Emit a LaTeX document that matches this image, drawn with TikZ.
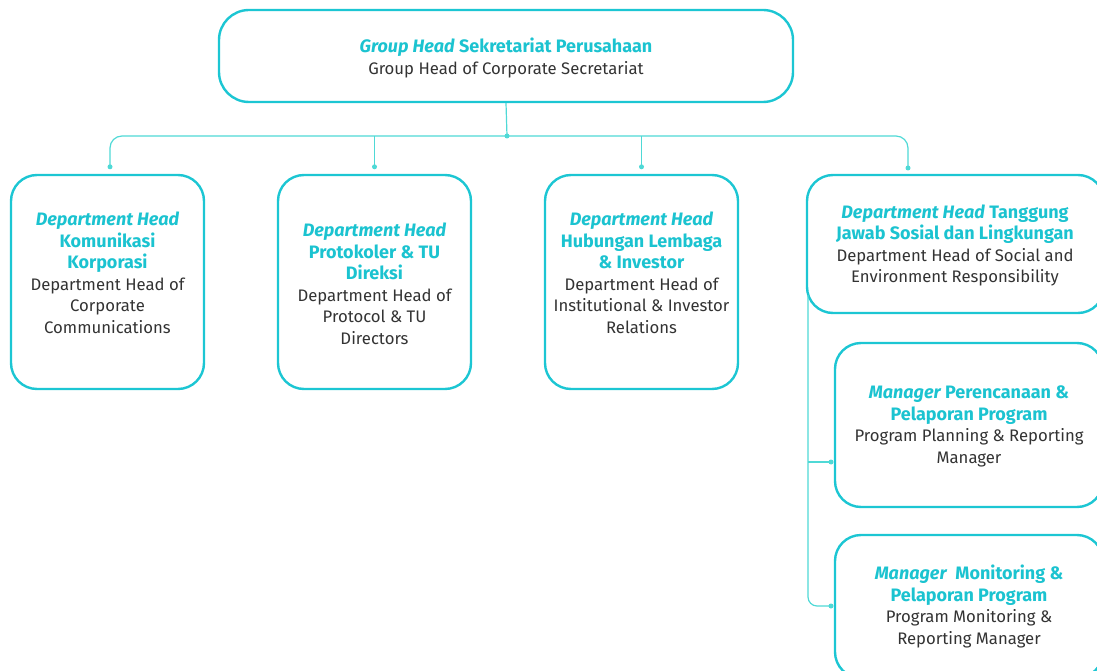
\documentclass[tikz,border=0pt]{standalone}
\usepackage{fontspec}
\setmainfont{Fira Sans}
\usetikzlibrary{calc}
\definecolor{boxc}{HTML}{1CC6D3}
\definecolor{linec}{HTML}{4FD9D6}
\definecolor{titc}{HTML}{1BC3D0}
\definecolor{txtc}{HTML}{333333}
\tikzset{
  box/.style={draw=boxc, line width=2.4pt, rounded corners=26pt, fill=white, inner sep=0pt},
  lbl/.style={align=center, text=txtc, font=\fontsize{16.7}{21.5}\selectfont, inner sep=0pt},
  conn/.style={draw=linec, line width=1.2pt},
  jdot/.style={circle, fill=linec, inner sep=0pt, minimum size=5pt},
}
\newcommand{\tiH}[1]{{\fontsize{18}{21.5}\selectfont\color{titc}\bfseries\itshape #1}}
\newcommand{\tbH}[1]{{\fontsize{18}{21.5}\selectfont\color{titc}\bfseries #1}}
\begin{document}
\begin{tikzpicture}[x=1pt,y=-1pt]
\useasboundingbox (0,0) rectangle (1097,671);
\clip (0,0) rectangle (1097,671);
% boxes
\node[box, rounded corners=30pt, minimum width=574pt, minimum height=92pt] (top) at (506,56) {};
\node[box, minimum width=193pt, minimum height=214pt] (b1) at (107.5,282) {};
\node[box, minimum width=193pt, minimum height=214pt] (b2) at (374.5,282) {};
\node[box, minimum width=193pt, minimum height=214pt] (b3) at (641.5,282) {};
\node[box, minimum width=297pt, minimum height=138pt] (b4) at (955.5,244) {};
\node[box, minimum width=268pt, minimum height=164pt] (b5) at (969,425) {};
\node[box, minimum width=268pt, minimum height=143pt] (b6) at (969,606.5) {};
% labels
\node[lbl] (ttop) at (506,58) {\tiH{Group Head} \tbH{Sekretariat Perusahaan}\\ Group Head of Corporate Secretariat};
\node[lbl] (t1) at (107.5,273) {\tiH{Department Head}\\ \tbH{Komunikasi}\\ \tbH{Korporasi}\\ Department Head of\\ Corporate\\ Communications};
\node[lbl] (t2) at (374.5,284) {\tiH{Department Head}\\ \tbH{Protokoler \& TU}\\ \tbH{Direksi}\\ Department Head of\\ Protocol \& TU\\ Directors};
\node[lbl] (t3) at (641.5,273) {\tiH{Department Head}\\ \tbH{Hubungan Lembaga}\\ \tbH{\& Investor}\\ Department Head of\\ Institutional \& Investor\\ Relations};
\node[lbl] (t4) at (955,245.5) {\tiH{Department Head} \tbH{Tanggung}\\ \tbH{Jawab Sosial dan Lingkungan}\\ Department Head of Social and\\ Environment Responsibility};
\node[lbl] (t5) at (969,426.5) {\tiH{Manager} \tbH{Perencanaan \&}\\ \tbH{Pelaporan Program}\\ Program Planning \& Reporting\\ Manager};
\node[lbl] (t6) at (969,606.5) {\tiH{Manager}\ \ \tbH{Monitoring \&}\\ \tbH{Pelaporan Program}\\ Program Monitoring \&\\ Reporting Manager};
% connector coordinates
\coordinate (bus) at (507,136);
\path (b1.north) ++(2.5,-7) coordinate (d1);
\path (b2.north) ++(0,-7) coordinate (d2);
\path (b3.north) ++(0,-7) coordinate (d3);
\coordinate (d4) at (908,168);
\coordinate (s4) at (808,295);
\coordinate (d5) at (831,462);
\coordinate (d6) at (831,606);
% connectors
\draw[conn] (top.south) -- (bus);
\draw[conn, rounded corners=12pt] (d1) |- (bus) -| (d4);
\draw[conn] (d2) -- (d2 |- bus);
\draw[conn] (d3) -- (d3 |- bus);
\draw[conn, rounded corners=9pt] (s4) |- (d6);
\draw[conn] (s4 |- d5) -- (d5);
\foreach \p in {bus,d1,d2,d3,d4,d5,d6} \node[jdot] at (\p) {};
\end{tikzpicture}
\end{document}
